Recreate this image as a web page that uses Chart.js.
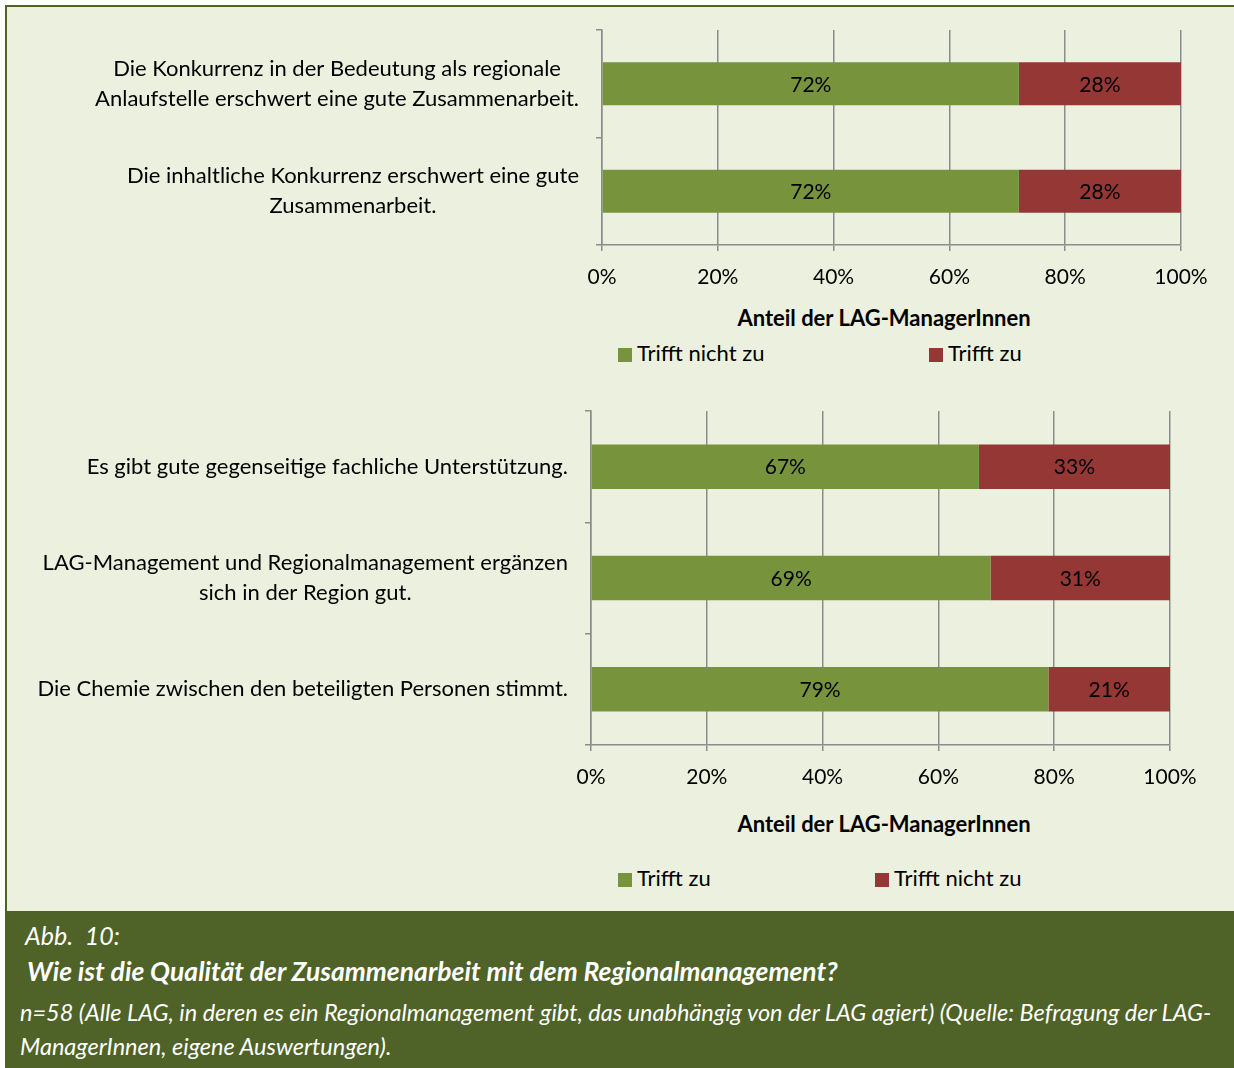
<!DOCTYPE html>
<html lang="de">
<head>
<meta charset="UTF-8"/>
<title>Qualität der Zusammenarbeit mit dem Regionalmanagement</title>
<script src="https://cdn.jsdelivr.net/npm/chart.js"></script>
<style>
    html, body {
        margin: 0;
        padding: 0;
        width: 1234px;
        height: 1068px;
        overflow: hidden;
        background: #fff;
        font-family: Lato, 'Open Sans', sans-serif;
        color: #000;
    }
    .frame {
        position: absolute;
        left: 5px;
        top: 5px;
        width: 1229px;
        height: 1063px;
        box-sizing: border-box;
        border-top: 2px solid #4f6228;
        border-left: 2px solid #4f6228;
        background: #ebf1de;
    }
    canvas { position: absolute; left: 0; }
    #chartTop { top: 0; }
    #chartBottom { top: 380px; }

    .axis-title {
        position: absolute;
        font-size: 22px;
        font-weight: bold;
        line-height: 26px;
        white-space: nowrap;
        transform: translateX(-50%);
    }
    .legend-item {
        position: absolute;
        font-size: 22px;
        line-height: 26px;
        white-space: nowrap;
    }
    .legend-item span.box {
        display: inline-block;
        width: 14px;
        height: 14px;
        margin-right: 5px;
        vertical-align: -1px;
    }
    .band {
        position: absolute;
        left: 5px;
        top: 911px;
        width: 1229px;
        height: 157px;
        background: #4f6228;
    }
    .cap {
        position: absolute;
        color: #fff;
        font-style: italic;
        white-space: nowrap;
        line-height: 28px;
    }
</style>
</head>
<body>
<div class="frame"></div>
<canvas id="chartTop" width="1234" height="300"></canvas>
<canvas id="chartBottom" width="1234" height="420"></canvas>

<div class="axis-title" style="left:884px; top:305px;">Anteil der LAG-ManagerInnen</div>
<div class="axis-title" style="left:884px; top:811px;">Anteil der LAG-ManagerInnen</div>
<div id="legendTop"></div>
<div id="legendBottom"></div>

<div class="band"></div>
<div class="cap" style="left:25px; top:921px; font-size:25px;">Abb.&nbsp;&nbsp;10:</div>
<div class="cap" style="left:27px; top:957px; font-size:26.5px; font-weight:bold;">Wie ist die Qualität der Zusammenarbeit mit dem Regionalmanagement?</div>
<div class="cap" style="left:20px; top:998px; font-size:23.5px;">n=58 (Alle LAG, in deren es ein Regionalmanagement gibt, das unabhängig von der LAG agiert) (Quelle: Befragung der LAG-</div>
<div class="cap" style="left:20px; top:1032px; font-size:23.5px;">ManagerInnen, eigene Auswertungen).</div>

<script>
    // --- data ---
    const topCategories = [
        ['Die Konkurrenz in der Bedeutung als regionale', 'Anlaufstelle erschwert eine gute Zusammenarbeit.'],
        ['Die inhaltliche Konkurrenz erschwert eine gute', 'Zusammenarbeit.']
    ];
    const topSeriesNames = ['Trifft nicht zu', 'Trifft zu'];
    const topTrifftNichtZu = [72, 72];
    const topTrifftZu = [28, 28];

    const bottomCategories = [
        ['Es gibt gute gegenseitige fachliche Unterstützung.'],
        ['LAG-Management und Regionalmanagement ergänzen', 'sich in der Region gut.'],
        ['Die Chemie zwischen den beteiligten Personen stimmt.']
    ];
    const bottomSeriesNames = ['Trifft zu', 'Trifft nicht zu'];
    const bottomTrifftZu = [67, 69, 79];
    const bottomTrifftNichtZu = [33, 31, 21];

    const xTicks = [0, 20, 40, 60, 80, 100];

    const GREEN = '#77933c';
    const RED = '#953735';
    const GRID = '#8c8c8c';
    const FONT = 'Lato, "Open Sans", sans-serif';

    // y labels: each label block centered on itself, block right-aligned to the axis
    const blockLabels = {
        id: 'blockLabels',
        afterDraw(chart) {
            const ctx = chart.ctx;
            const yScale = chart.scales.y;
            const right = chart.chartArea.left - 23;
            const lh = 30;
            ctx.save();
            ctx.font = '22px ' + FONT;
            ctx.fillStyle = '#000';
            ctx.textAlign = 'center';
            ctx.textBaseline = 'middle';
            chart.data.labels.forEach((lines, i) => {
                const y = yScale.getPixelForValue(i);
                const maxW = Math.max(...lines.map(l => ctx.measureText(l).width));
                const cx = right - maxW / 2;
                lines.forEach((l, j) => {
                    ctx.fillText(l, cx, y + (j - (lines.length - 1) / 2) * lh);
                });
            });
            ctx.restore();
        }
    };

    // value labels centered inside each bar segment
    const valueLabels = {
        id: 'valueLabels',
        afterDatasetsDraw(chart) {
            const ctx = chart.ctx;
            ctx.save();
            ctx.font = '21px ' + FONT;
            ctx.fillStyle = '#000';
            ctx.textAlign = 'center';
            ctx.textBaseline = 'middle';
            chart.data.datasets.forEach((ds, di) => {
                chart.getDatasetMeta(di).data.forEach((bar, i) => {
                    ctx.fillText(ds.data[i] + '%', (bar.x + bar.base) / 2, bar.y + 1);
                });
            });
            ctx.restore();
        }
    };

    function makeChart(id, labels, names, series, yWidth, axisHeight, padTop, padRight) {
        return new Chart(document.getElementById(id), {
            type: 'bar',
            data: {
                labels: labels,
                datasets: [
                    { label: names[0], data: series[0], backgroundColor: GREEN },
                    { label: names[1], data: series[1], backgroundColor: RED }
                ]
            },
            options: {
                indexAxis: 'y',
                responsive: false,
                animation: false,
                events: [],
                layout: { padding: { left: 0, top: padTop, right: padRight, bottom: 0 } },
                datasets: { bar: { categoryPercentage: 1, barPercentage: 0.4 } },
                scales: {
                    x: {
                        stacked: true,
                        min: 0,
                        max: 100,
                        afterBuildTicks: s => { s.ticks = xTicks.map(v => ({ value: v })); },
                        afterFit: s => { s.height = axisHeight; },
                        grid: { color: GRID, lineWidth: 1.5, tickLength: 6 },
                        border: { color: GRID, width: 1.5 },
                        ticks: {
                            color: '#000',
                            font: { family: FONT, size: 21 },
                            padding: 14,
                            callback: v => v + '%'
                        }
                    },
                    y: {
                        stacked: true,
                        afterFit: s => { s.width = yWidth; },
                        grid: { offset: true, drawOnChartArea: false, color: GRID, lineWidth: 1.5, tickLength: 6 },
                        border: { color: GRID, width: 1.5 },
                        ticks: { display: false }
                    }
                },
                plugins: {
                    legend: { display: false },
                    tooltip: { enabled: false }
                }
            },
            plugins: [blockLabels, valueLabels]
        });
    }

    makeChart('chartTop', topCategories, topSeriesNames, [topTrifftNichtZu, topTrifftZu], 602, 55, 30, 53);
    makeChart('chartBottom', bottomCategories, bottomSeriesNames, [bottomTrifftZu, bottomTrifftNichtZu], 591, 55, 31, 64);

    // legends
    function buildLegend(holderId, names, xs, top) {
        const holder = document.getElementById(holderId);
        [GREEN, RED].forEach((c, i) => {
            const d = document.createElement('div');
            d.className = 'legend-item';
            d.style.left = xs[i] + 'px';
            d.style.top = top + 'px';
            d.innerHTML = '<span class="box" style="background:' + c + '"></span>' + names[i];
            holder.appendChild(d);
        });
    }
    buildLegend('legendTop', topSeriesNames, [618, 929], 340);
    buildLegend('legendBottom', bottomSeriesNames, [618, 875], 865);
</script>
</body>
</html>
